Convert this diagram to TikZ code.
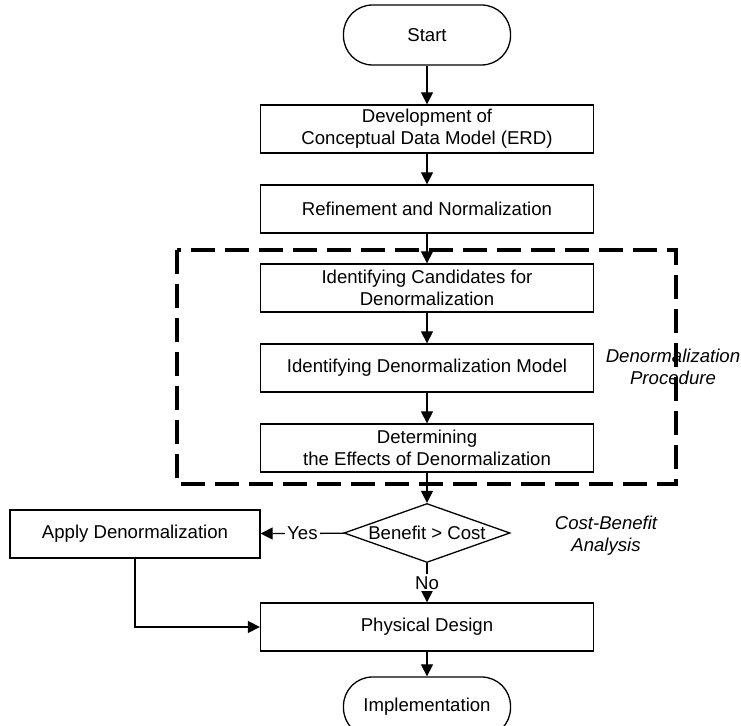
\documentclass[tikz,border=0pt]{standalone}
\usepackage{fontspec}
\setmainfont{Liberation Sans}
\usetikzlibrary{arrows.meta,positioning,calc,shapes.geometric}

\begin{document}
\begin{tikzpicture}[x=0.5pt,y=-0.5pt,
  font=\fontsize{9.3}{11}\selectfont,
  >={Triangle[length=6pt,width=6pt]}, line width=0.65pt,
  stepbox/.style={draw,rectangle,minimum width=166.5pt,minimum height=24pt,inner sep=0pt,align=center},
  termbox/.style={draw,rectangle,rounded corners=14.5pt,minimum width=83.5pt,minimum height=30pt,inner sep=0pt},
  decbox/.style={draw,diamond,shape aspect=2.8,minimum width=83pt,minimum height=29.5pt,inner sep=0pt},
  lbl/.style={fill=white,inner sep=1pt},
  note/.style={font=\fontsize{9.3}{11}\selectfont\itshape,align=center},
  dashframe/.style={line width=1.9pt,dash pattern=on 12pt off 5pt}]
  \useasboundingbox (0,0) rectangle (741,726);
  \node[termbox] (start) at (427,35) {Start};
  \node[stepbox] (erd) at (427,129) {Development of\\Conceptual Data Model (ERD)};
  \node[stepbox] (norm) at (427,209) {Refinement and Normalization};
  \node[stepbox] (cand) at (427,288) {Identifying Candidates for\\Denormalization};
  \node[stepbox] (model) at (427,368) {Identifying Denormalization Model};
  \node[stepbox] (effects) at (427,448) {Determining\\the Effects of Denormalization};
  \node[decbox] (decide) at (427,533) {Benefit > Cost};
  \node[stepbox,minimum width=125pt] (apply) at (135,534) {Apply Denormalization};
  \node[stepbox] (phys) at (427,627) {Physical Design};
  \node[termbox] (impl) at (427,707) {Implementation};
  \draw[dashframe] (177,250) rectangle (676,484);
  \node[note] (proc) at (673,367) {Denormalization\\Procedure};
  \node[note] (cba) at (606,536) {Cost-Benefit\\Analysis};
  \foreach \a/\b in {start/erd,erd/norm,norm/cand,cand/model,model/effects,effects/decide,phys/impl}
    \draw[->] (\a) -- (\b);
  \draw[->] (decide) -- node[lbl] (yes) {Yes} (apply);
  \draw[->] (decide) -- node[lbl] (no) {No} (phys);
  \draw[->] (apply.south) |- (phys.west);
\end{tikzpicture}
\end{document}
